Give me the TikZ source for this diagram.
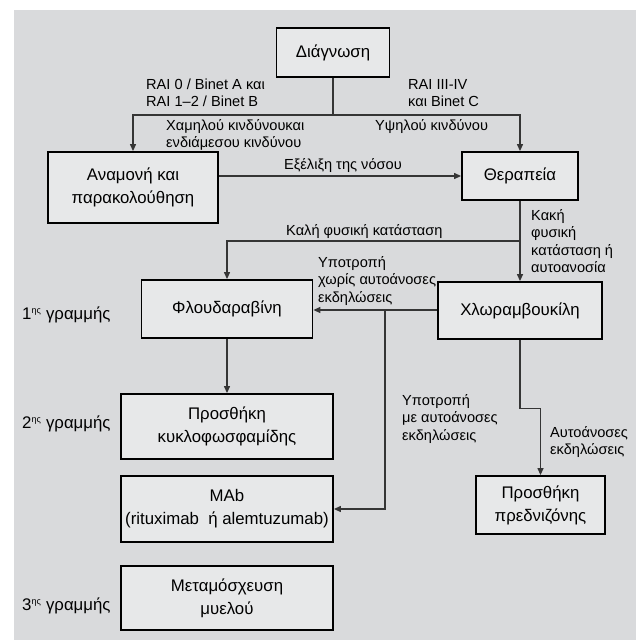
\documentclass[tikz,border=0pt]{standalone}
\usepackage{fontspec}
\setmainfont{Liberation Sans}
\usetikzlibrary{arrows.meta}
\definecolor{panel}{HTML}{D9DADC}
\definecolor{boxfill}{HTML}{E7E8E9}
\definecolor{wire}{HTML}{353535}
\begin{document}
\begin{tikzpicture}[x=1pt, y=-1pt,
  stage/.style={rectangle, draw=black, line width=1.8pt, fill=boxfill,
                align=center, inner sep=0pt,
                font=\fontsize{16.8}{23}\selectfont},
  note/.style={anchor=west, align=left, inner sep=0pt,
               font=\fontsize{14.6}{17.5}\selectfont},
  tier/.style={anchor=west, inner sep=0pt,
               font=\fontsize{16.8}{20}\selectfont},
  line/.style={draw=wire, line width=1.2pt},
  arr/.style={line, -{Triangle[length=7pt, width=6pt]}}
]
  % Φόντο
  \useasboundingbox (0,0) rectangle (636,640);
  \fill[panel] (14,10) rectangle (636,640);

  % Κόμβοι
  \node[stage, minimum width=113, minimum height=49] (diag) at (333, 52.5) {Διάγνωση};
  \node[stage, minimum width=170, minimum height=71] (wait) at (133, 187.5) {Αναμονή και\\παρακολούθηση};
  \node[stage, minimum width=116, minimum height=48] (ther) at (520, 176) {Θεραπεία};
  \node[stage, minimum width=171, minimum height=58] (fluda) at (227, 309) {Φλουδαραβίνη};
  \node[stage, minimum width=164, minimum height=57] (chlor) at (520, 310.5) {Χλωραμβουκίλη};
  \node[stage, minimum width=212, minimum height=65] (cyclo) at (227, 426.5) {Προσθήκη\\κυκλοφωσφαμίδης};
  \node[stage, minimum width=212, minimum height=66] (mab) at (227, 509) {MAb\\(rituximab \ ή alemtuzumab)};
  \node[stage, minimum width=212, minimum height=64] (bmt) at (227, 598) {Μεταμόσχευση\\μυελού};
  \node[stage, minimum width=129, minimum height=58] (pred) at (540.5, 505) {Προσθήκη\\πρεδνιζόνης};

  % Γραμμές θεραπείας
  \node[tier] (first) at (22, 315) {1\textsuperscript{\fontsize{9}{9}\selectfont ης} γραμμής};
  \node[tier] (second) at (22, 424) {2\textsuperscript{\fontsize{9}{9}\selectfont ης} γραμμής};
  \node[tier] (third) at (22, 606) {3\textsuperscript{\fontsize{9}{9}\selectfont ης} γραμμής};

  % Διακλάδωση μετά τη διάγνωση
  \coordinate (split) at (333, 115);
  \draw[line] (diag) -- (split);
  \draw[arr] (split) -| (wait);
  \draw[arr] (split) -| (ther);
  \node[note] (lowrai) at (146, 93) {RAI 0 / Binet A και\\RAI 1--2 / Binet B};
  \node[note] (highrai) at (408, 93) {RAI III-IV\\και Binet C};
  \node[note] (lowrisk) at (166, 135) {Χαμηλού κινδύνουκαι\\ενδιάμεσου κινδύνου};
  \node[note] (highrisk) at (375, 127) {Υψηλού κινδύνου};

  % Εξέλιξη
  \draw[arr] (wait.east |- ther.west) -- (ther.west);
  \node[note] (prog) at (284, 166) {Εξέλιξη της νόσου};

  % Επιλογή φαρμάκου
  \coordinate (good) at (520, 241);
  \draw[arr] (ther) -- (chlor);
  \draw[arr] (good) -| (fluda);
  \node[note] (fit) at (286, 232) {Καλή φυσική κατάσταση};
  \node[note] (unfit) at (531, 241) {Κακή\\φυσική\\κατάσταση ή\\αυτοανοσία};

  % Υποτροπή
  \coordinate (relapse) at (385, 310);
  \draw[arr] (chlor.west |- relapse) -- (fluda.east |- relapse);
  \draw[arr] (relapse) |- (mab);
  \node[note] (noauto) at (318, 281) {Υποτροπή\\χωρίς αυτοάνοσες\\εκδηλώσεις};
  \node[note] (withauto) at (402, 419) {Υποτροπή\\με αυτοάνοσες\\εκδηλώσεις};

  % Κάτω κλάδοι
  \draw[arr] (fluda) -- (cyclo);
  \draw[arr] (chlor.south) -- ++(0, 68.5) -| (pred);
  \node[note] (autoimm) at (550, 442) {Αυτοάνοσες\\εκδηλώσεις};
\end{tikzpicture}
\end{document}
